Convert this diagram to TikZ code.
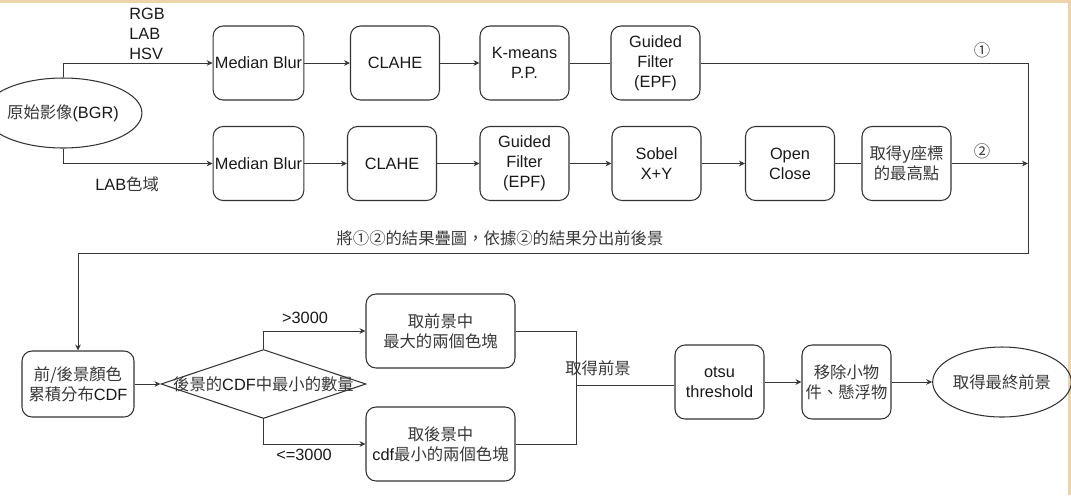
\documentclass[tikz,border=0pt]{standalone}
\usepackage{fontspec}
\setmainfont{Liberation Sans}
\newfontfamily\cjk[Script=CJK, Language=Chinese Traditional]{Noto Sans CJK TC}
\newcommand{\zh}[1]{{\cjk\color{black!78}#1}}
\usetikzlibrary{
    arrows.meta,
    positioning,
    shapes.geometric
}
\definecolor{frametan}{RGB}{238,211,168}
\definecolor{wire}{RGB}{55,55,55}
\tikzset{
    % --- Processing step (rounded box) ---
    stage/.style = {
        rectangle, rounded corners=0.2cm, draw=black!80, line width=0.6pt,
        minimum width=1.78cm, minimum height=1.48cm,
        align=center, inner sep=1pt
    },
    % --- Wider step for the two colour-block picks ---
    wide stage/.style = {
        stage, minimum width=2.98cm
    },
    % --- CDF step ---
    cdf stage/.style = {
        stage, minimum width=2.24cm, minimum height=1.32cm
    },
    % --- Start / end terminal ---
    terminal/.style = {
        ellipse, draw=black!80, line width=0.6pt,
        minimum width=2.48cm, minimum height=1.4cm,
        inner sep=0pt
    },
    % --- Threshold decision ---
    decision/.style = {
        diamond, draw=black!80, line width=0.6pt,
        minimum width=4.1cm, minimum height=1.38cm,
        inner sep=0pt
    },
    % --- Flow arrow ---
    data arrow/.style = {
        -{Stealth[length=3.4pt,width=3.2pt]}, draw=wire, line width=0.55pt
    },
    % --- Plain wire, no tip ---
    wire line/.style = {
        draw=wire, line width=0.55pt
    },
    % --- Text label on a wire ---
    signal/.style = {
        align=left, inner sep=0pt
    }
}

\begin{document}
\begin{tikzpicture}[
    x=0.02cm, y=-0.02cm,
    font=\fontsize{9.3}{11.3}\selectfont, text=black!90
]
\useasboundingbox (0,0) rectangle (1071,495);

% frame edges
\fill[frametan] (0,0) rectangle (1071,2.5);
\fill[frametan] (1068,0) rectangle (1071,495);

% ---------------------------------------------------------
% Source image
% ---------------------------------------------------------
\node[terminal] (src) at (63,113) {\zh{原始影像}(BGR)};

% ---------------------------------------------------------
% Path 1 (RGB / LAB / HSV)
% ---------------------------------------------------------
\node[stage] (mb1) at (258.5,63) {Median Blur};
\node[stage] (clahe1) at (395,63) {CLAHE};
\node[stage] (kmeans) at (524.5,63) {K-means\\P.P.};
\node[stage] (gf1) at (655.5,63) {Guided\\Filter\\(EPF)};

% ---------------------------------------------------------
% Path 2 (LAB)
% ---------------------------------------------------------
\node[stage] (mb2) at (258.5,163.5) {Median Blur};
\node[stage] (clahe2) at (392,163.5) {CLAHE};
\node[stage] (gf2) at (524.5,163.5) {Guided\\Filter\\(EPF)};
\node[stage] (sobel) at (656.5,163.5) {Sobel\\X+Y};
\node[stage] (openclose) at (790,163.5) {Open\\Close};
\node[stage] (ymax) at (906.5,163.5) {\zh{取得y座標}\\\zh{的最高點}};

% colour space labels
\node[signal, anchor=west] (spaces1) at (129,34) {RGB\\LAB\\HSV};
\node[signal, anchor=west] (spaces2) at (95,184) {LAB\zh{色域}};

\draw[data arrow] (src.north) |- (mb1.west);
\draw[data arrow] (src.south) |- (mb2.west);
\draw[data arrow] (mb1) -- (clahe1);
\draw[data arrow] (clahe1) -- (kmeans);
\draw[wire line] (kmeans) -- (gf1);
\draw[data arrow] (mb2) -- (clahe2);
\draw[data arrow] (clahe2) -- (gf2);
\draw[data arrow] (gf2) -- (sobel);
\draw[data arrow] (sobel) -- (openclose);
\draw[wire line] (openclose) -- (ymax);

% ---------------------------------------------------------
% Merge of both results, back to the CDF step
% ---------------------------------------------------------
\node[cdf stage] (cdf) at (78,384) {\zh{前/後景顏色}\\\zh{累積分布}CDF};

\coordinate (loopR) at (1028,253);
\draw[data arrow] (gf1.east) -- (gf1.east -| loopR) -- (loopR) -| (cdf.north);
\draw[data arrow] (ymax.east) -- (ymax.east -| loopR);

\node (lab1) at (982,50) {\zh{①}};
\node (lab2) at (982,151) {\zh{②}};
\node (overlay) at (500,238) {\zh{將①②的結果疊圖，依據②的結果分出前後景}};

% ---------------------------------------------------------
% Decision on the background CDF
% ---------------------------------------------------------
\node[decision, label=center:{\zh{後景的}CDF\zh{中最小的數量}}] (dec) at (263.5,384) {};
\node[wide stage] (fgbox) at (440.5,331) {\zh{取前景中}\\\zh{最大的兩個色塊}};
\node[wide stage] (bgbox) at (440.5,444) {\zh{取後景中}\\cdf\zh{最小的兩個色塊}};

\draw[data arrow] (cdf) -- (dec);
\draw[data arrow] (dec.north) |- (fgbox.west);
\draw[data arrow] (dec.south) |- (bgbox.west);
\node[signal] (gt) at (305,318) {>3000};
\node[signal] (le) at (304,455) {<=3000};

% ---------------------------------------------------------
% Foreground clean-up
% ---------------------------------------------------------
\node[stage] (otsu) at (719.5,382) {otsu\\threshold};
\node[stage] (remove) at (846.5,382) {\zh{移除小物}\\\zh{件、懸浮物}};
\node[terminal, minimum width=2.64cm] (result) at (1002,382) {\zh{取得最終前景}};

\coordinate (merge) at (576,385);
\draw[wire line] (fgbox.east) -| (merge);
\draw[wire line] (bgbox.east) -| (merge);
\draw[wire line] (merge) -- (merge -| otsu.west);
\node (fglabel) at (598,368) {\zh{取得前景}};

\draw[data arrow] (otsu) -- (remove);
\draw[data arrow] (remove) -- (result);

\end{tikzpicture}
\end{document}
